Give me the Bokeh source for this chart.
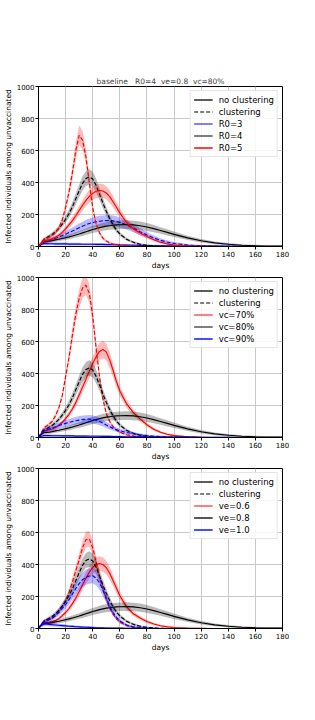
import numpy as np
from bokeh.plotting import figure
from bokeh.models import Range1d, Legend, LegendItem
from bokeh.layouts import column
from bokeh.embed import file_html
from bokeh.resources import INLINE

# ---------------- data ----------------
DAYS = [0, 2, 4, 6, 8, 10, 12.5, 15, 17.5, 20, 22.5, 25, 27.5, 30, 32.5, 35, 37.5, 40,
        42.5, 45, 47.5, 50, 52.5, 55, 57.5, 60, 65, 70, 75, 80, 85, 90, 95, 100,
        110, 120, 130, 140, 150, 160, 170, 180]

# baseline R0=4, ve=0.8, vc=80%
BASE_CLUST = [0, 25, 45, 55, 65, 75, 92, 113, 140, 170, 205, 248, 298, 348, 395, 425, 435, 422,
              382, 328, 272, 220, 175, 135, 102, 78, 45, 26, 14, 7, 3, 1, 0, 0,
              0, 0, 0, 0, 0, 0, 0, 0]
BASE_NOCLUST = [0, 20, 30, 32, 34, 37, 41, 45, 50, 55, 60, 66, 72, 78, 85, 92, 99, 106,
                112, 118, 123, 127, 130, 133, 135, 136, 137, 135, 130, 122, 112, 100, 88, 76,
                54, 36, 23, 14, 8, 5, 3, 2]

R0_3_CLUST = [0, 15, 30, 35, 40, 45, 52, 60, 68, 77, 87, 97, 107, 117, 127, 136, 144, 150,
              155, 158, 160, 162, 162, 160, 156, 150, 135, 115, 92, 72, 54, 39, 28, 19,
              9, 4, 2, 1, 0, 0, 0, 0]
R0_3_NOCLUST = [0, 12, 18, 18, 17, 17, 16, 16, 16, 16, 15, 15, 15, 15, 14, 14, 14, 14,
                13, 13, 13, 12, 12, 11, 11, 10, 9, 8, 7, 6, 5, 5, 4, 4,
                3, 2, 2, 1, 1, 1, 0, 0]
R0_5_CLUST = [0, 25, 45, 50, 58, 68, 85, 115, 165, 245, 340, 460, 600, 695, 665, 560, 400, 240,
              140, 85, 52, 34, 23, 16, 11, 7, 4, 2, 1, 0, 0, 0, 0, 0,
              0, 0, 0, 0, 0, 0, 0, 0]
R0_5_NOCLUST = [0, 20, 35, 38, 42, 48, 57, 70, 88, 110, 135, 162, 192, 225, 258, 288, 313, 332,
                345, 350, 347, 335, 312, 280, 245, 210, 150, 110, 85, 62, 42, 27, 16, 9,
                3, 1, 0, 0, 0, 0, 0, 0]

VC70_CLUST = [0, 30, 60, 72, 85, 100, 135, 185, 260, 380, 500, 640, 770, 870, 935, 952, 900, 760,
              560, 380, 240, 150, 100, 68, 47, 33, 17, 9, 4, 2, 1, 0, 0, 0,
              0, 0, 0, 0, 0, 0, 0, 0]
VC70_NOCLUST = [0, 20, 40, 44, 48, 53, 62, 76, 95, 118, 145, 178, 218, 265, 315, 365, 415, 462,
                505, 538, 550, 535, 485, 420, 350, 290, 210, 155, 115, 80, 52, 33, 20, 12,
                4, 1, 0, 0, 0, 0, 0, 0]
VC90_CLUST = [0, 25, 45, 50, 55, 60, 67, 75, 82, 88, 94, 100, 105, 109, 112, 114, 115, 113,
              108, 100, 90, 78, 67, 57, 49, 42, 31, 23, 17, 12, 8, 6, 4, 3,
              1, 0, 0, 0, 0, 0, 0, 0]
VC90_NOCLUST = [0, 8, 12, 12, 12, 11, 11, 11, 10, 10, 10, 10, 9, 9, 9, 9, 8, 8,
                8, 8, 7, 7, 7, 6, 6, 6, 5, 5, 4, 4, 3, 3, 3, 2,
                2, 1, 1, 1, 0, 0, 0, 0]

VE06_CLUST = [0, 25, 45, 52, 58, 65, 85, 110, 140, 175, 225, 290, 360, 430, 505, 555, 560, 505,
              415, 325, 248, 182, 130, 90, 60, 40, 18, 8, 4, 2, 1, 0, 0, 0,
              0, 0, 0, 0, 0, 0, 0, 0]
VE06_NOCLUST = [0, 20, 35, 38, 40, 43, 50, 62, 80, 100, 125, 155, 190, 230, 272, 315, 352, 382,
                400, 406, 400, 380, 345, 300, 252, 205, 135, 92, 65, 44, 28, 17, 10, 6,
                2, 1, 0, 0, 0, 0, 0, 0]
VE10_CLUST = [0, 25, 45, 50, 55, 62, 80, 100, 125, 150, 180, 215, 250, 280, 305, 320, 328, 330,
              315, 285, 240, 190, 140, 100, 70, 48, 22, 10, 5, 2, 1, 0, 0, 0,
              0, 0, 0, 0, 0, 0, 0, 0]
VE10_NOCLUST = [0, 20, 30, 28, 26, 24, 22, 20, 18, 16, 14, 13, 11, 10, 9, 8, 7, 6,
                5, 4, 4, 3, 3, 2, 2, 2, 1, 1, 1, 0, 0, 0, 0, 0,
                0, 0, 0, 0, 0, 0, 0, 0]

# relative half-width of the shaded spread (no clustering, clustering)
SPREAD = {
    "R0=3": (0.25, 0.18), "R0=4": (0.16, 0.10), "R0=5": (0.11, 0.08),
    "vc=70%": (0.09, 0.06), "vc=80%": (0.16, 0.10), "vc=90%": (0.25, 0.18),
    "ve=0.6": (0.10, 0.08), "ve=0.8": (0.16, 0.10), "ve=1.0": (0.25, 0.13),
}

X_TICKS = [0, 20, 40, 60, 80, 100, 120, 140, 160, 180]
Y_TICKS = [0, 200, 400, 600, 800, 1000]
TITLE = "baseline\u00a0\u00a0 R0=4\u00a0 ve=0.8\u00a0 vc=80%"
Y_LABEL = "Infected individuals among unvaccinated"
X_LABEL = "days"

PANELS = [
    dict(title=TITLE, scen=[("R0=3", R0_3_NOCLUST, R0_3_CLUST, "#0000ff"),
                            ("R0=4", BASE_NOCLUST, BASE_CLUST, "#000000"),
                            ("R0=5", R0_5_NOCLUST, R0_5_CLUST, "#ff0000")]),
    dict(title=None, scen=[("vc=70%", VC70_NOCLUST, VC70_CLUST, "#ff0000"),
                           ("vc=80%", BASE_NOCLUST, BASE_CLUST, "#000000"),
                           ("vc=90%", VC90_NOCLUST, VC90_CLUST, "#0000ff")]),
    dict(title=None, scen=[("ve=0.6", VE06_NOCLUST, VE06_CLUST, "#ff0000"),
                           ("ve=0.8", BASE_NOCLUST, BASE_CLUST, "#000000"),
                           ("ve=1.0", VE10_NOCLUST, VE10_CLUST, "#0000ff")]),
]
# legend swatch look for the scenario entries (colour, alpha, width)
LEGEND_SWATCH = [
    [("#0000ff", 1.0, 1.2), ("#000000", 1.0, 1.2), ("#ff0000", 0.75, 1.8)],
    [("#ff0000", 1.0, 1.2), ("#000000", 1.0, 1.2), ("#0000ff", 0.7, 1.8)],
    [("#ff0000", 1.0, 1.2), ("#444444", 0.9, 1.8), ("#0000ff", 0.7, 1.8)],
]

FONT = "DejaVu Sans"
TOPS = [86, 5, 5]

figs = []
x = np.array(DAYS, dtype=float)
for i, pan in enumerate(PANELS):
    p = figure(frame_width=244, frame_height=160, output_backend="svg",
               toolbar_location=None, title=pan["title"],
               x_range=Range1d(0, 180), y_range=Range1d(0, 1000),
               min_border_left=31, min_border_right=24,
               min_border_top=TOPS[i], min_border_bottom=26)
    p.background_fill_color = "white"
    p.border_fill_color = "white"
    if pan["title"]:
        p.title.align = "center"
        p.title.text_font = FONT
        p.title.text_font_size = "7.5px"
        p.title.text_font_style = "normal"
        p.title.standoff = 2
    p.outline_line_color = "black"
    p.outline_line_width = 1
    p.outline_line_alpha = 1
    p.grid.grid_line_color = "#c8c8c8"
    p.grid.grid_line_width = 1
    p.xaxis.ticker = X_TICKS
    p.yaxis.ticker = Y_TICKS
    p.xaxis.axis_label = X_LABEL
    p.yaxis.axis_label = Y_LABEL
    for ax in (p.xaxis[0], p.yaxis[0]):
        ax.axis_line_color = "black"
        ax.major_tick_line_color = "black"
        ax.major_tick_out = 3
        ax.major_tick_in = 0
        ax.minor_tick_out = 0
        ax.minor_tick_in = 0
        ax.major_label_text_font = FONT
        ax.major_label_text_font_size = "7px"
        ax.major_label_text_color = "black"
        ax.major_label_standoff = 1
        ax.axis_label_text_font = FONT
        ax.axis_label_text_font_size = "7.5px"
        ax.axis_label_text_font_style = "normal"
        ax.axis_label_text_color = "black"
        ax.axis_label_standoff = 1

    for (name, nc, cl, col) in pan["scen"]:
        rel_nc, rel_cl = SPREAD[name]
        for vals, rel, dash in ((nc, rel_nc, "solid"), (cl, rel_cl, "4 2")):
            v = np.array(vals, dtype=float)
            half = v * rel + 5.0 * (v > 0)
            p.varea(x=x, y1=np.clip(v - half, 0, None), y2=v + half,
                    fill_color=col, fill_alpha=0.27)
            p.line(x=x, y=v, line_color=col, line_width=1.15, line_dash=dash)

    # legend swatches: renderers holding one undefined point, so nothing shows in the plot
    nan_y = [np.nan]
    items = []
    r = p.line(x=x[:1], y=nan_y, line_color="#000000", line_width=1.4, line_alpha=0.85)
    items.append(LegendItem(label="no clustering", renderers=[r]))
    r = p.line(x=x[:1], y=nan_y, line_color="#000000", line_width=1.2, line_dash="4 2")
    items.append(LegendItem(label="clustering", renderers=[r]))
    for (name, nc, cl, col), (sc, sa, sw) in zip(pan["scen"], LEGEND_SWATCH[i]):
        r = p.line(x=x[:1], y=nan_y, line_color=sc, line_alpha=sa, line_width=sw)
        items.append(LegendItem(label=name, renderers=[r]))
    leg = Legend(items=items, location="top_right")
    leg.label_text_font = FONT
    leg.label_text_font_size = "8.5px"
    leg.label_text_color = "black"
    leg.glyph_width = 19
    leg.glyph_height = 11
    leg.label_height = 11
    leg.label_standoff = 6
    leg.spacing = 1
    leg.padding = 3
    leg.margin = 4
    leg.border_line_color = "#cccccc"
    leg.border_line_width = 1
    leg.background_fill_alpha = 0.85
    p.add_layout(leg)
    figs.append(p)

layout = column(*figs, spacing=0)
open("out.html", "w").write(file_html(layout, INLINE))
